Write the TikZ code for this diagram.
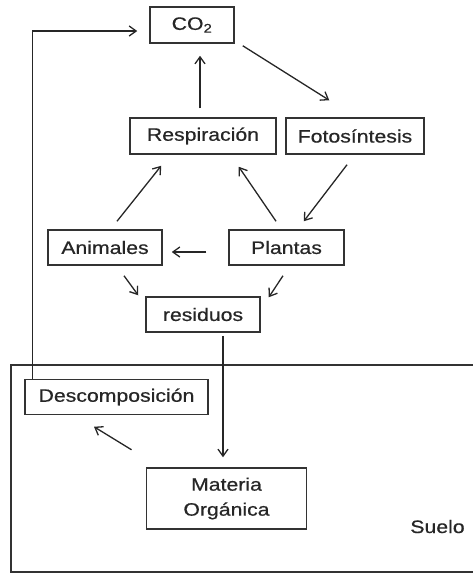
\documentclass[tikz,border=0pt]{standalone}
\usepackage{fontspec}
\setmainfont[FakeStretch=1.18,FakeBold=0.6]{Liberation Sans}
\usetikzlibrary{arrows.meta}
\begin{document}
\begin{tikzpicture}[x=1pt,y=-1pt,
  every node/.style={font=\fontsize{18}{25}\selectfont,text=black!85},
  box/.style={draw=black!80,line width=1.5pt,inner sep=0pt,anchor=center},
  arr/.style={draw=black!85,line width=1.3pt,-{Straight Barb[length=7pt,width=10pt,line width=1.3pt]}},
  ln/.style={draw=black!80,line width=1.4pt}]
\useasboundingbox (0,0) rectangle (473,573);
% soil region, open on the right side
\begin{scope}
\clip (0,0) rectangle (473,573);
\draw[ln] (490,365) -- (11,365) -- (11,572) -- (490,572);
\end{scope}

\node[box,minimum width=84pt,minimum height=36pt] (co2) at (192,25) {CO\textsubscript{2}};
\node[box,minimum width=146pt,minimum height=36pt] (resp) at (203,136) {Respiración};
\node[box,minimum width=138pt,minimum height=36pt] (foto) at (355,136) {Fotosíntesis};
\node[box,minimum width=114pt,minimum height=35pt] (anim) at (105,247.5) {Animales};
\node[box,minimum width=115pt,minimum height=35pt] (plant) at (286.5,247.5) {Plantas};
\node[box,minimum width=114pt,minimum height=35pt] (res) at (203,314.5) {residuos};
\node[box,minimum width=183pt,minimum height=35pt] (desc) at (116.5,397) {Descomposición};
\node[box,minimum width=160pt,minimum height=61pt,align=center] (mat) at (226.5,498.5) {Materia\\Orgánica};
\node[anchor=base] (suelo) at (437.5,533) {Suelo};

% carbon flows
\draw[arr] ([shift={(-3,-9)}]resp.north) -- ([shift={(8,12)}]co2.south);
\draw[arr] ([shift={(8,2)}]co2.south east) -- ([shift={(44,-17)}]foto.north west);
\draw[arr] ([shift={(12,-8)}]anim.north) -- ([shift={(32,11)}]resp.south west);
\draw[arr] ([shift={(-10.5,-8)}]plant.north) -- ([shift={(-38,12)}]resp.south east);
\draw[arr] ([shift={(-8,10)}]foto.south) -- ([shift={(-41,-8)}]plant.north east);
\draw[arr] ([shift={(-22,4.5)}]plant.west) -- ([shift={(9,4.5)}]anim.east);
\draw[arr] ([shift={(19,10)}]anim.south) -- ([shift={(-7,-1)}]res.north west);
\draw[arr] ([shift={(-3.5,10)}]plant.south) -- ([shift={(8,1)}]res.north east);
\draw[arr] ([shift={(20,3)}]res.south) -- ([shift={(-3.5,-10)}]mat.north);
\draw[arr] ([shift={(-95,-17.5)}]mat.north) -- ([shift={(-22.5,11.5)}]desc.south);
\draw[arr] ([shift={(8,0)}]desc.north west) |- ([shift={(-12,6)}]co2.west);
\end{tikzpicture}
\end{document}
